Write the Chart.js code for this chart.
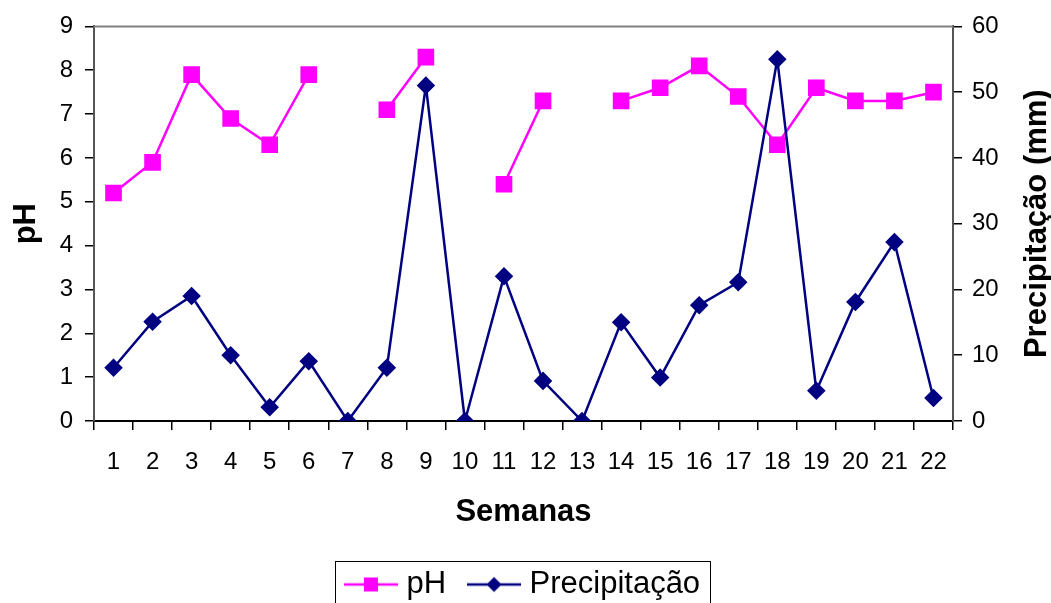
<!DOCTYPE html>
<html>
<head>
<meta charset="utf-8">
<script src="https://cdn.jsdelivr.net/npm/chart.js@4.4.1/dist/chart.umd.min.js"></script>
<style>
  html, body { margin: 0; padding: 0; background: #fff; }
  #wrap { width: 1051px; height: 603px; }
</style>
</head>
<body>
<div id="wrap"><canvas id="chart" width="1051" height="603"></canvas></div>
<script>
const weeks = ['1','2','3','4','5','6','7','8','9','10','11','12','13','14','15','16','17','18','19','20','21','22'];
const phValues = [5.2, 5.9, 7.9, 6.9, 6.3, 7.9, null, 7.1, 8.3, null, 5.4, 7.3, null, 7.3, 7.6, 8.1, 7.4, 6.3, 7.6, 7.3, 7.3, 7.5];
const rainValues = [8.1, 15.1, 19, 10, 2.1, 9.1, 0, 8.1, 51, 0, 22, 6.1, 0, 15, 6.6, 17.6, 21.1, 55, 4.6, 18.1, 27.2, 3.5];
const phRange = [0, 9];
const rainRange = [0, 60];

const FONT = 'Arial, "Liberation Sans", sans-serif';
const PINK = '#ff00ff';
const NAVY = '#000080';

// little line+marker pictures for the legend
function legendIcon(color, shape) {
    const c = document.createElement('canvas');
    c.width = 54; c.height = 18;
    const g = c.getContext('2d');
    g.strokeStyle = color;
    g.lineWidth = 2.5;
    g.beginPath(); g.moveTo(0, 9); g.lineTo(54, 9); g.stroke();
    g.fillStyle = color;
    if (shape === 'rect') {
        g.fillRect(20, 2, 14, 14);
    } else {
        g.beginPath();
        g.moveTo(27, 1.5); g.lineTo(34.5, 9); g.lineTo(27, 16.5); g.lineTo(19.5, 9);
        g.closePath(); g.fill();
    }
    return c;
}
const icons = [legendIcon(PINK, 'rect'), legendIcon(NAVY, 'diamond')];

const framePlugin = {
    id: 'frame',
    afterDraw(chart) {
        const ctx = chart.ctx;
        const a = chart.chartArea;
        ctx.save();
        // top border of plot
        ctx.strokeStyle = '#808080';
        ctx.lineWidth = 2;
        ctx.beginPath(); ctx.moveTo(a.left, a.top); ctx.lineTo(a.right, a.top); ctx.stroke();

        // right axis title, reading upwards
        ctx.fillStyle = '#000';
        ctx.font = 'bold 31px ' + FONT;
        ctx.textAlign = 'center';
        ctx.textBaseline = 'middle';
        ctx.translate(1037, (a.top + a.bottom) / 2);
        ctx.rotate(-Math.PI / 2);
        ctx.fillText('Precipitação (mm)', 0, 0);
        ctx.restore();

        // legend box
        const hb = chart.legend.legendHitBoxes;
        if (hb && hb.length) {
            const first = hb[0], last = hb[hb.length - 1];
            ctx.save();
            ctx.strokeStyle = '#000';
            ctx.lineWidth = 1;
            const l = Math.round(first.left - 16) + 0.5;
            const r = Math.round(last.left + last.width + 10) + 0.5;
            const t = Math.round(first.top - 8) + 0.5;
            ctx.strokeRect(l, t, r - l, 80);
            ctx.restore();
        }
    }
};

const ctx = document.getElementById('chart').getContext('2d');
const chart = new Chart(ctx, {
    type: 'line',
    data: {
        labels: weeks,
        datasets: [{
            label: 'pH',
            data: phValues,
            yAxisID: 'y',
            borderColor: PINK,
            backgroundColor: PINK,
            borderWidth: 2.5,
            pointStyle: 'rect',
            pointRadius: 10,
            pointHoverRadius: 10,
            spanGaps: false,
            tension: 0,
            order: 1
        }, {
            label: 'Precipitação',
            data: rainValues,
            yAxisID: 'y2',
            borderColor: NAVY,
            backgroundColor: NAVY,
            borderWidth: 2.5,
            pointStyle: 'rectRot',
            pointRadius: 7.5,
            pointHoverRadius: 7.5,
            tension: 0,
            order: 0
        }]
    },
    options: {
        responsive: false,
        animation: false,
        events: [],
        layout: { padding: { top: 25, left: 0, right: 0, bottom: -7 } },
        scales: {
            x: {
                offset: true,
                grid: { offset: true, drawOnChartArea: false, drawTicks: true, tickLength: 9, color: '#000', lineWidth: 1.5 },
                border: { color: '#000', width: 2 },
                ticks: { color: '#000', font: { family: FONT, size: 24 }, padding: 18, maxRotation: 0, autoSkip: false },
                title: { display: true, text: 'Semanas', color: '#000', font: { family: FONT, size: 31, weight: 'bold' }, padding: { top: 4, bottom: 10 } },
                afterFit: s => { s.height = 120; }
            },
            y: {
                position: 'left',
                min: phRange[0], max: phRange[1],
                ticks: { stepSize: 1, color: '#000', font: { family: FONT, size: 24 }, padding: 12 },
                grid: { drawOnChartArea: false, drawTicks: true, tickLength: 9, color: '#000', lineWidth: 1.5 },
                border: { color: '#555', width: 2 },
                title: { display: true, text: 'pH', color: '#000', font: { family: FONT, size: 31, weight: 'bold' }, padding: { top: 8, bottom: 4 } },
                afterFit: s => { s.width = 94; }
            },
            y2: {
                position: 'right',
                min: rainRange[0], max: rainRange[1],
                ticks: { stepSize: 10, color: '#000', font: { family: FONT, size: 24 }, padding: 10 },
                grid: { drawOnChartArea: false, drawTicks: true, tickLength: 9, color: '#000', lineWidth: 1.5 },
                border: { color: '#555', width: 2 },
                afterFit: s => { s.width = 98; }
            }
        },
        plugins: {
            tooltip: { enabled: false },
            legend: {
                position: 'bottom',
                labels: {
                    color: '#000',
                    font: { family: FONT, size: 31 },
                    usePointStyle: true,
                    pointStyleWidth: 40,
                    padding: 28,
                    sort: (a, b) => a.datasetIndex - b.datasetIndex,
                    generateLabels: chart => {
                        const items = Chart.defaults.plugins.legend.labels.generateLabels(chart);
                        items.forEach(it => { it.pointStyle = icons[it.datasetIndex]; });
                        return items;
                    }
                }
            }
        }
    },
    plugins: [framePlugin]
});
</script>
</body>
</html>
